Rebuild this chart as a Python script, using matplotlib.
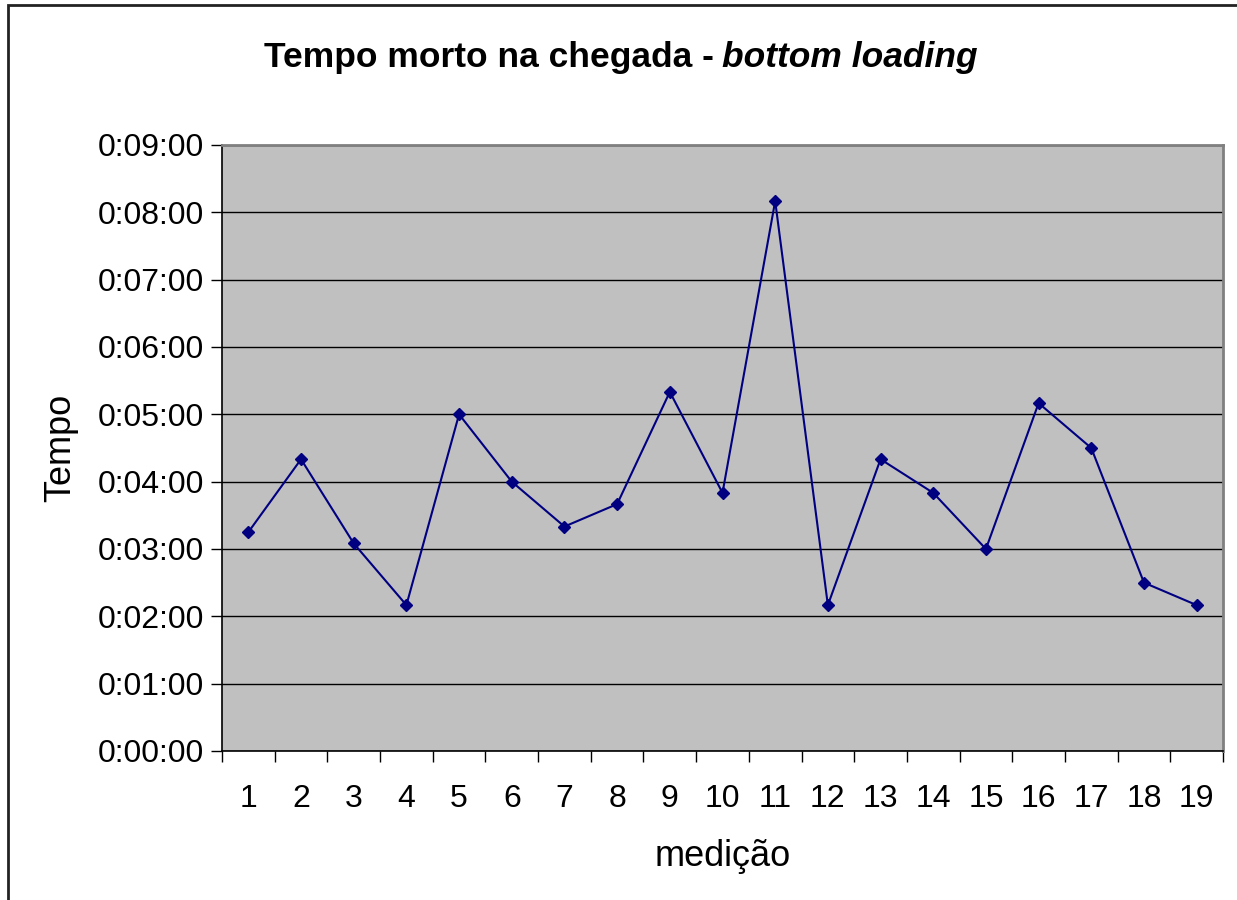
import matplotlib
matplotlib.use('Agg')
import matplotlib.pyplot as plt
from matplotlib.ticker import FuncFormatter, MultipleLocator, FixedLocator
from matplotlib.patches import Rectangle

# Dados: tempo morto por medição (em segundos)
medicoes = list(range(1, 20))
tempos_seg = [195, 260, 185, 130, 300, 240, 200, 220, 320, 230,
              490, 130, 260, 230, 180, 310, 270, 150, 130]

plt.rcParams['font.family'] = ['Liberation Sans', 'DejaVu Sans']

def fmt_tempo(v, pos):
    v = int(round(v))
    return f"{v // 3600}:{(v % 3600) // 60:02d}:{v % 60:02d}"

fig = plt.figure(figsize=(12.37, 9), dpi=100)
W, H = 1237, 900

# Moldura do gráfico
fig.patches.append(Rectangle((8 / W, -0.1), 1.2, 1 - 5 / H + 0.1, transform=fig.transFigure,
                             fill=False, edgecolor='#222222', linewidth=2))

ax = fig.add_axes([222 / W, 1 - 751 / H, (1223 - 222) / W, (751 - 145) / H])
ax.set_facecolor('#C0C0C0')

x = list(range(len(medicoes)))
ax.plot(x, tempos_seg, color='#000080', linewidth=1.5, marker='D', markersize=6,
        markerfacecolor='#000080', markeredgecolor='#000080', zorder=3)

ax.set_ylim(0, 540)
ax.yaxis.set_major_locator(MultipleLocator(60))
ax.yaxis.set_major_formatter(FuncFormatter(fmt_tempo))
ax.grid(axis='y', color='black', linewidth=1, zorder=1)
ax.set_axisbelow(True)

ax.set_xlim(-0.5, len(medicoes) - 0.5)
ax.set_xticks(x)
ax.set_xticklabels([str(m) for m in medicoes])
ax.xaxis.set_minor_locator(FixedLocator([i - 0.5 for i in range(len(medicoes) + 1)]))
ax.tick_params(axis='x', which='major', length=0, pad=24, labelsize=23)
ax.tick_params(axis='x', which='minor', length=8, width=1, direction='out')
ax.tick_params(axis='y', length=8, width=1, direction='out', pad=5, labelsize=23)

for s in ['left', 'bottom']:
    ax.spines[s].set_color('black')
    ax.spines[s].set_linewidth(1.2)
for s in ['top', 'right']:
    ax.spines[s].set_color('#808080')
    ax.spines[s].set_linewidth(2)

ax.set_xlabel('medição', fontsize=26, labelpad=18)
ax.set_ylabel('Tempo', fontsize=26, labelpad=14)

# Título com parte em itálico
fig.text(714 / W, 1 - 58 / H, 'Tempo morto na chegada -', ha='right', va='center',
         fontsize=25.5, fontweight='bold')
fig.text(722 / W, 1 - 58 / H, 'bottom loading', ha='left', va='center',
         fontsize=25.5, fontweight='bold', fontstyle='italic')

fig.savefig('out.png', dpi=100, facecolor='white')
